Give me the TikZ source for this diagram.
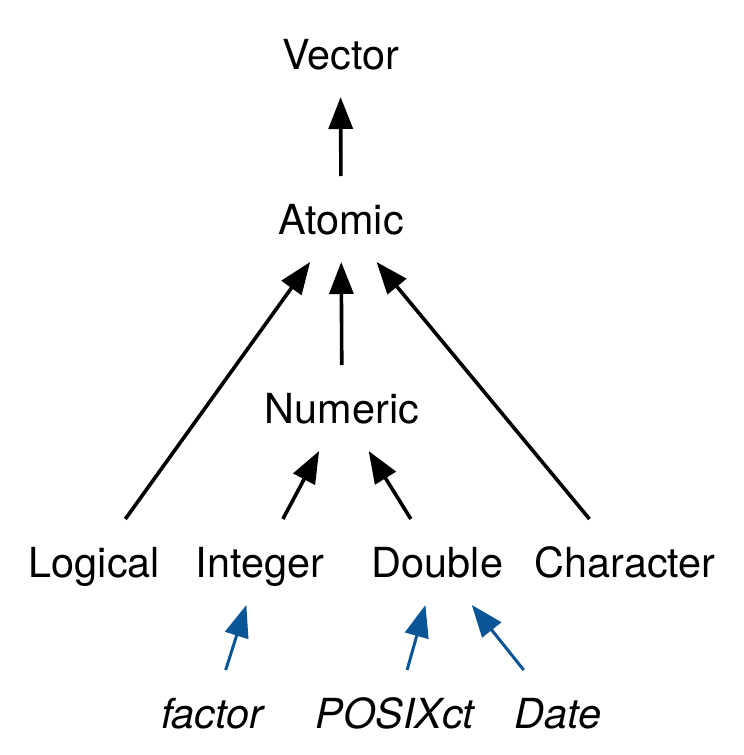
\documentclass[tikz,border=0pt]{standalone}
\usepackage{fontspec}
\setmainfont{TeX Gyre Heros}
\usepackage{xcolor}
\usetikzlibrary{arrows.meta, positioning}
\definecolor{sblue}{RGB}{10,85,150}

\begin{document}
\begin{tikzpicture}[
        x=0.5pt, y=-0.5pt,
        block/.style={anchor=base, inner sep=0pt, outer sep=14pt, text height=15pt, text depth=0pt, font=\fontsize{20.7}{24}\selectfont},
        sblock/.style={block, font=\fontsize{20.7}{24}\selectfont\itshape},
        arrow/.style={-{Triangle[length=16pt, width=12pt]}, line width=1.8pt},
        sarrow/.style={-{Triangle[length=16pt, width=12pt]}, line width=1.5pt, draw=sblue, fill=sblue}
    ]
        \useasboundingbox (0,0) rectangle (744,755);

        % Top
        \node[block] (vector) at (340.5, 69) {Vector};
        \node[block] (atomic) at (341, 234) {Atomic};
        \node[block] (numeric) at (342, 423) {Numeric};

        % Base types
        \node[block] (logical) at (94.5, 577) {Logical};
        \node[block] (integer) at (260, 577) {Integer};
        \node[block] (double) at (437.5, 577) {Double};
        \node[block] (character) at (625, 577) {Character};

        % S3 classes
        \node[sblock] (factor) at (212, 728) {factor};
        \node[sblock] (posixct) at (395, 728) {POSIXct};
        \node[sblock] (date) at (558, 728) {Date};

        % Arrows
        \draw[arrow] (atomic) -- (vector);
        \draw[arrow] (numeric) -- (atomic);
        \draw[arrow] (logical) -- (atomic);
        \draw[arrow] (character) -- (atomic);
        \draw[arrow] (integer) -- (numeric);
        \draw[arrow] (double) -- (numeric);

        % Class arrows
        \draw[sarrow] (factor) -- (integer);
        \draw[sarrow] (posixct) -- (double);
        \draw[sarrow] (date) -- (double);
    \end{tikzpicture}
\end{document}
